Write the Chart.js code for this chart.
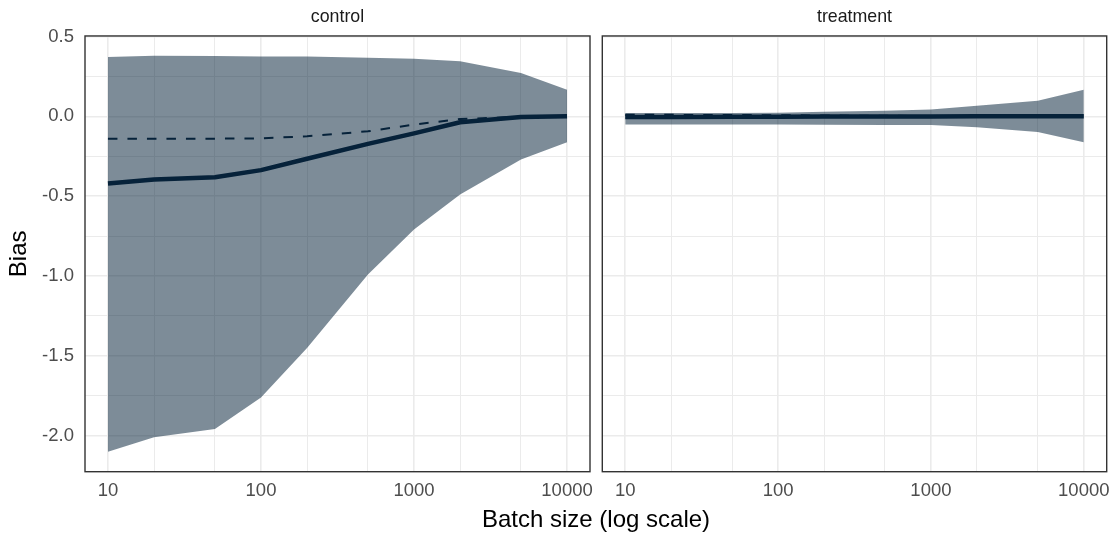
<!DOCTYPE html>
<html>
<head>
<meta charset="utf-8">
<script src="https://cdn.jsdelivr.net/npm/chart.js@4.4.0/dist/chart.umd.min.js"></script>
<style>
    html, body { margin: 0; padding: 0; background: #fff; }
    #wrap { position: relative; width: 1115px; height: 536px; font-family: "Liberation Sans", Arial, sans-serif; }
    #left-box { position: absolute; left: 0; top: 0; width: 595px; height: 536px; }
    #right-box { position: absolute; left: 595px; top: 0; width: 520px; height: 536px; }
    #x-title { position: absolute; left: 85px; width: 1022px; top: 505px; line-height: 28px; text-align: center; font-size: 24px; color: #000; }
</style>
</head>
<body>
<div id="wrap">
    <div id="left-box"><canvas id="control-chart"></canvas></div>
    <div id="right-box"><canvas id="treatment-chart"></canvas></div>
    <div id="x-title">Batch size (log scale)</div>
</div>
<script>
// --- Data ---
const batchSizes = [10, 20, 50, 100, 200, 500, 1000, 2000, 5000, 10000];

const controlMean   = [-0.420, -0.396, -0.381, -0.337, -0.266, -0.173, -0.107, -0.037, -0.004, 0.000];
const controlMedian = [-0.141, -0.140, -0.140, -0.138, -0.125, -0.094, -0.052, -0.017, -0.003, 0.000];
const controlUpper  = [0.371, 0.379, 0.378, 0.375, 0.375, 0.367, 0.360, 0.344, 0.271, 0.167];
const controlLower  = [-2.100, -2.010, -1.958, -1.760, -1.450, -0.990, -0.708, -0.489, -0.271, -0.162];

const treatmentMean   = [-0.004, -0.004, -0.003, -0.003, -0.002, -0.002, -0.001, 0.000, 0.000, 0.000];
const treatmentMedian = [0.009, 0.009, 0.008, 0.007, 0.005, 0.003, 0.002, 0.001, 0.000, 0.000];
const treatmentUpper  = [0.020, 0.020, 0.021, 0.023, 0.028, 0.034, 0.042, 0.066, 0.098, 0.166];
const treatmentLower  = [-0.052, -0.052, -0.052, -0.052, -0.053, -0.055, -0.055, -0.068, -0.098, -0.162];

// tick labels / grid breaks
const xLabelTicks = [10, 100, 1000, 10000];
const xGridTicks = [10, 20, 50, 100, 200, 500, 1000, 2000, 5000, 10000];
const yLabelTicks = [-2.0, -1.5, -1.0, -0.5, 0.0, 0.5];
const yGridTicks = [-2.0, -1.75, -1.5, -1.25, -1.0, -0.75, -0.5, -0.25, 0.0, 0.25, 0.5];

const LINE_COLOR = '#06223a';
const BAND_COLOR = 'rgba(6, 34, 58, 0.52)';
const GRID_COLOR = '#ebebeb';
const FONT = '"Liberation Sans", Arial, sans-serif';

// --- Panel border drawn on top like ggplot's panel.border ---
const panelBorder = {
    id: 'panelBorder',
    afterDraw(chart) {
        const { ctx, chartArea: a } = chart;
        ctx.save();
        ctx.strokeStyle = '#333333';
        ctx.lineWidth = 1.4;
        ctx.strokeRect(a.left, a.top, a.right - a.left, a.bottom - a.top);
        ctx.restore();
    }
};

const makeDatasets = (mean, median, upper, lower) => {
    const pts = (arr) => batchSizes.map((x, i) => ({ x: x, y: arr[i] }));
    return [
        { label: 'mean', data: pts(mean), borderColor: LINE_COLOR, borderWidth: 4.5, borderCapStyle: 'butt', borderJoinStyle: 'round', pointRadius: 0, fill: false },
        { label: 'median', data: pts(median), borderColor: LINE_COLOR, borderWidth: 2, borderDash: [9.5, 10], pointRadius: 0, fill: false },
        { label: 'upper', data: pts(upper), borderWidth: 0, borderColor: 'rgba(0,0,0,0)', backgroundColor: BAND_COLOR, pointRadius: 0, fill: '+1' },
        { label: 'lower', data: pts(lower), borderWidth: 0, borderColor: 'rgba(0,0,0,0)', pointRadius: 0, fill: false }
    ];
};

const makeOptions = (panelName, isLeft) => ({
    responsive: true,
    maintainAspectRatio: false,
    animation: false,
    events: [],
    layout: { padding: { left: 0, right: isLeft ? 5 : 8.3, top: 0, bottom: 0 } },
    plugins: {
        legend: { display: false },
        tooltip: { enabled: false },
        title: {
            display: true,
            text: panelName,
            fullSize: false,
            color: '#1a1a1a',
            font: { family: FONT, size: 17.8, weight: 'normal', lineHeight: 1.2 },
            padding: { top: 6.5, bottom: 8.1 }
        }
    },
    scales: {
        x: {
            type: 'logarithmic',
            min: Math.pow(10, 0.85),
            max: Math.pow(10, 4.15),
            afterBuildTicks: (scale) => {
                scale.ticks = xGridTicks.map(v => ({ value: v, major: xLabelTicks.includes(v) }));
            },
            afterFit: (scale) => {
                scale.height = 64.3;
                // labels may overhang the panel edge, as in ggplot
                scale.paddingLeft = 0;
                scale.paddingRight = 0;
            },
            border: { display: false },
            grid: {
                drawTicks: false,
                color: GRID_COLOR,
                lineWidth: (ctx) => (ctx.tick && xLabelTicks.includes(ctx.tick.value)) ? 1.6 : 1.0
            },
            ticks: {
                autoSkip: false,
                maxRotation: 0,
                padding: 8,
                color: '#4d4d4d',
                font: { family: FONT, size: 18.5 },
                callback: (v) => xLabelTicks.includes(v) ? String(v) : ''
            }
        },
        y: {
            type: 'linear',
            min: -2.225,
            max: 0.503,
            afterBuildTicks: (scale) => {
                scale.ticks = yGridTicks.map(v => ({ value: v }));
            },
            afterFit: (scale) => {
                scale.width = isLeft ? 85 : 7.3;
                scale.paddingTop = 0;
                scale.paddingBottom = 0;
            },
            border: { display: false },
            grid: {
                drawTicks: false,
                color: GRID_COLOR,
                lineWidth: (ctx) => (ctx.tick && yLabelTicks.includes(ctx.tick.value)) ? 1.6 : 1.0
            },
            ticks: {
                display: isLeft,
                padding: 11,
                color: '#4d4d4d',
                font: { family: FONT, size: 18.5 },
                callback: (v) => yLabelTicks.includes(v) ? v.toFixed(1) : ''
            },
            title: {
                display: isLeft,
                text: 'Bias',
                color: '#000',
                font: { family: FONT, size: 24 },
                padding: { top: 5, bottom: 0 }
            }
        }
    }
});

// --- Render both facets ---
const controlCtx = document.getElementById('control-chart').getContext('2d');
const treatmentCtx = document.getElementById('treatment-chart').getContext('2d');

new Chart(controlCtx, {
    type: 'line',
    data: { datasets: makeDatasets(controlMean, controlMedian, controlUpper, controlLower) },
    options: makeOptions('control', true),
    plugins: [panelBorder]
});

new Chart(treatmentCtx, {
    type: 'line',
    data: { datasets: makeDatasets(treatmentMean, treatmentMedian, treatmentUpper, treatmentLower) },
    options: makeOptions('treatment', false),
    plugins: [panelBorder]
});
</script>
</body>
</html>
